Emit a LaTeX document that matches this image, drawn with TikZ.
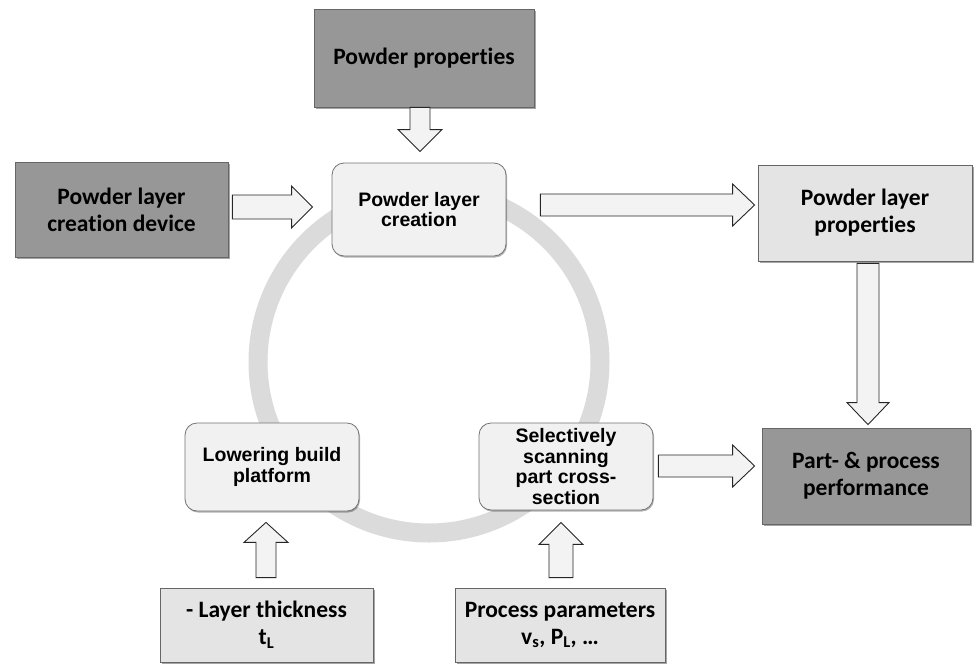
\documentclass[tikz,border=0pt]{standalone}
\usepackage{fontspec}
\newfontfamily\calib[RawFeature=-liga]{Carlito}
\newfontfamily\arialf{Liberation Sans}
\usetikzlibrary{calc,shadows}
\definecolor{darkbox}{HTML}{979797}
\definecolor{lightbox}{HTML}{E4E4E4}
\definecolor{procbox}{HTML}{F1F1F1}
\definecolor{ringc}{HTML}{DBDBDB}
\definecolor{arrfill}{HTML}{F3F3F3}
\tikzset{
  sq/.style={draw=black!60, line width=0.8pt, align=center, inner sep=2pt,
    font=\calib\bfseries\fontsize{23.5}{27}\selectfont,
    drop shadow={shadow xshift=1.5pt, shadow yshift=-1.5pt, fill=black, opacity=0.35}},
  darksq/.style={sq, fill=darkbox},
  lightsq/.style={sq, fill=lightbox},
  procnode/.style={draw=black!55, line width=0.8pt, fill=procbox, rounded corners=12pt,
    align=center, inner sep=2pt, font=\arialf\bfseries\fontsize{19.5}{20.5}\selectfont,
    drop shadow={shadow xshift=1pt, shadow yshift=-1.5pt, fill=black, opacity=0.3}},
  barrow/.style={draw=black!85, line width=0.9pt, fill=arrfill, line join=miter}
}
\newcommand\blockarrow[5]{%
  \draw[barrow] let \p1=(#1), \p2=(#2), \n1={atan2(\y2-\y1,\x2-\x1)} in
    ($(\p1)+(\n1+90:#3)$) -- ($(\p2)+(\n1+180:#5)+(\n1+90:#3)$)
    -- ($(\p2)+(\n1+180:#5)+(\n1+90:#4)$) -- (\p2)
    -- ($(\p2)+(\n1+180:#5)+(\n1-90:#4)$) -- ($(\p2)+(\n1+180:#5)+(\n1-90:#3)$)
    -- ($(\p1)+(\n1-90:#3)$) -- cycle;}
\begin{document}
\begin{tikzpicture}[x=1pt,y=-1pt]
\useasboundingbox[fill=white] (0,0) rectangle (974,667);
% cycle ring
\coordinate (ringc) at (429,362);
\draw[ringc, line width=19pt] (ringc) circle[radius=171pt];
% nodes
\node[darksq, minimum width=220pt, minimum height=98pt] (pp) at (424,58) {Powder properties};
\node[darksq, minimum width=213pt, minimum height=95pt] (dev) at (121.5,209.5) {Powder layer\\creation device};
\node[procnode, minimum width=174pt, minimum height=93pt] (plc) at (419,209.5) {Powder layer\\creation};
\node[lightsq, minimum width=214pt, minimum height=96pt] (plp) at (865,213) {Powder layer\\properties};
\node[darksq, minimum width=208pt, minimum height=96pt] (part) at (866,476) {Part- \& process\\performance};
\node[procnode, minimum width=174pt, minimum height=87pt] (sel) at (566,466.5) {Selectively\\scanning\\part cross-\\section};
\node[procnode, minimum width=174pt, minimum height=88pt] (low) at (272,467) {Lowering build\\platform};
\node[lightsq, minimum width=213pt, minimum height=74pt] (lt) at (266.5,625) {- Layer thickness\\t\textsubscript{L}};
\node[lightsq, minimum width=210pt, minimum height=74pt] (proc) at (560,625) {Process parameters\\v\textsubscript{s}, P\textsubscript{L}, \dots};
% block arrows
\blockarrow{$(pp.south)+(-4,0)$}{$(plc.north)+(1,-11)$}{10pt}{22pt}{22pt}
\blockarrow{$(dev.east)+(4,-2.5)$}{$(plc.west)+(-19,-2.5)$}{12pt}{21pt}{21pt}
\blockarrow{$(plc.east)+(34,-4.5)$}{$(plp.west)+(-3,-8)$}{11pt}{21pt}{22pt}
\blockarrow{$(plp.south)+(3,2)$}{$(part.north)+(2,-3)$}{11pt}{21pt}{22pt}
\blockarrow{$(sel.east)+(5,-0.5)$}{$(part.west)+(-7,-10)$}{11pt}{21pt}{22pt}
\blockarrow{$(lt.north)+(-0.5,-10)$}{$(low.south)+(-6,11)$}{10pt}{22pt}{20pt}
\blockarrow{$(proc.north)+(1,-10)$}{$(sel.south)+(-5,12)$}{12pt}{22pt}{22pt}
\end{tikzpicture}
\end{document}
